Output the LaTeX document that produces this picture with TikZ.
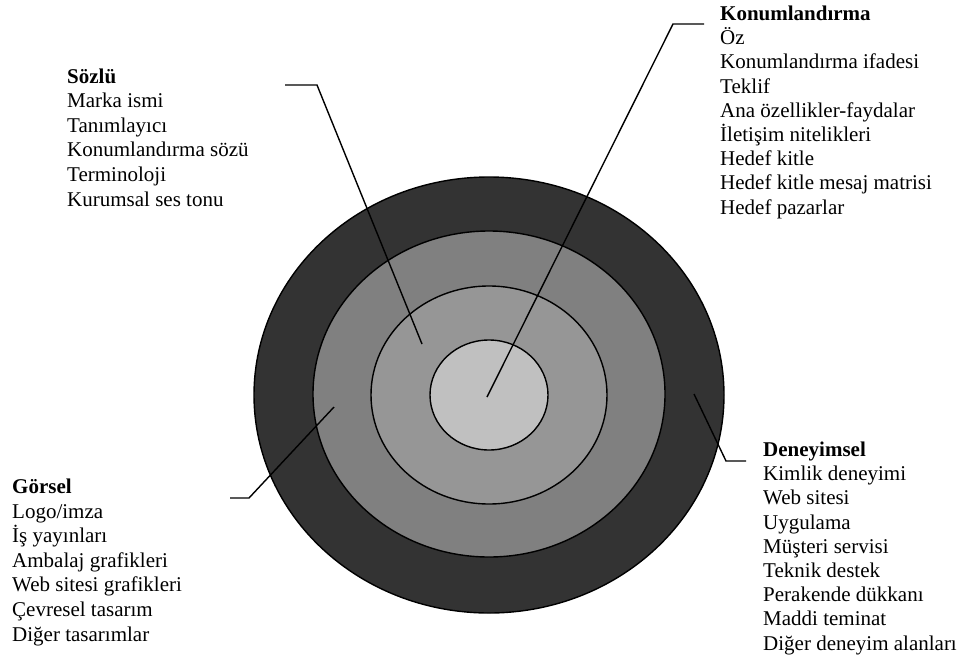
\documentclass[tikz,border=0pt]{standalone}
\usepackage{fontspec}
\setmainfont{Liberation Serif}
\definecolor{ringA}{HTML}{333333}
\definecolor{ringB}{HTML}{808080}
\definecolor{ringC}{HTML}{969696}
\definecolor{ringD}{HTML}{C0C0C0}
\begin{document}
\begin{tikzpicture}[x=1pt,y=-1pt,
  ring/.style={draw=black,line width=1.4pt},
  leader/.style={draw=black,line width=1.4pt},
  lbl/.style={anchor=base west,inner sep=0pt,align=left,
    font=\fontsize{21pt}{24.2pt}\selectfont},
  lblwide/.style={lbl,font=\fontsize{21pt}{24.6pt}\selectfont}]
\useasboundingbox (0,0) rectangle (963,667);
% rings
\path[ring,fill=ringA] (489,395) ellipse [x radius=235,y radius=218];
\path[ring,fill=ringB] (489,394) ellipse [x radius=176,y radius=163];
\path[ring,fill=ringC] (489,395) ellipse [x radius=118,y radius=109];
\path[ring,fill=ringD] (489,395) ellipse [x radius=59,y radius=55];
% labels (anchored at the baseline of their last line)
\node[lblwide] (soz) at (67,206) {\textbf{Sözlü}\\Marka ismi\\Tanımlayıcı\\Konumlandırma sözü\\Terminoloji\\Kurumsal ses tonu};
\node[lbl] (kon) at (720,214) {\textbf{Konumlandırma}\\Öz\\Konumlandırma ifadesi\\Teklif\\Ana özellikler-faydalar\\İletişim nitelikleri\\Hedef kitle\\Hedef kitle mesaj matrisi\\Hedef pazarlar};
\node[lblwide] (gor) at (12,641) {\textbf{Görsel}\\Logo/imza\\İş yayınları\\Ambalaj grafikleri\\Web sitesi grafikleri\\Çevresel tasarım\\Diğer tasarımlar};
\node[lbl] (den) at (763,650) {\textbf{Deneyimsel}\\Kimlik deneyimi\\Web sitesi\\Uygulama\\Müşteri servisi\\Teknik destek\\Perakende dükkanı\\Maddi teminat\\Diğer deneyim alanları};
% leader points
\coordinate (sozTip) at (422,344);
\coordinate (sozBend) at (317,85);
\coordinate (sozEnd) at (285,85);
\coordinate (konTip) at (487,397);
\coordinate (konBend) at (673,24);
\coordinate (konEnd) at (704,24);
\coordinate (gorTip) at (334,407);
\coordinate (gorBend) at (249,498);
\coordinate (gorEnd) at (230,498);
\coordinate (denTip) at (694,394);
\coordinate (denBend) at (726,461);
\coordinate (denEnd) at (746,461);
\draw[leader] (sozEnd) -- (sozBend) -- (sozTip);
\draw[leader] (konEnd) -- (konBend) -- (konTip);
\draw[leader] (gorEnd) -- (gorBend) -- (gorTip);
\draw[leader] (denEnd) -- (denBend) -- (denTip);
\end{tikzpicture}
\end{document}
